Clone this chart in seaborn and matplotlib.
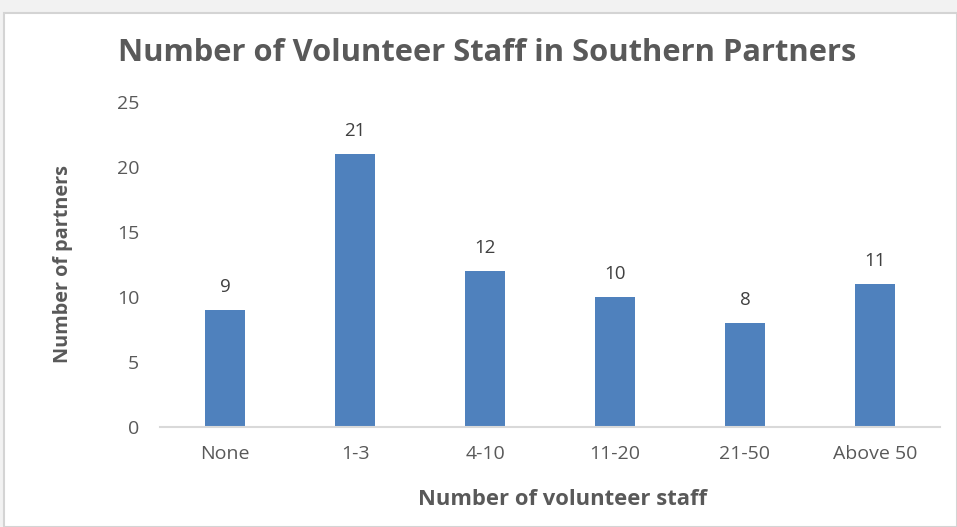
import matplotlib
matplotlib.use("Agg")
import matplotlib.pyplot as plt
from matplotlib.patches import Rectangle
import seaborn as sns
import pandas as pd

categories = ["None", "1-3", "4-10", "11-20", "21-50", "Above 50"]
partners = [9, 21, 12, 10, 8, 11]
y_ticks = [0, 5, 10, 15, 20, 25]

title = "Number of Volunteer Staff in Southern Partners"
x_label = "Number of volunteer staff"
y_label = "Number of partners"

sns.set_style("white")
plt.rcParams["font.family"] = ["Open Sans", "DejaVu Sans"]

df = pd.DataFrame({"category": categories, "partners": partners})

W, H = 957, 527
fig = plt.figure(figsize=(W / 100, H / 100), dpi=100)
fig.patch.set_facecolor("#f2f2f2")

# white chart area with a thin grey border
frame = Rectangle((4 / W, 0), 1 - 4 / W, 1 - 13 / H, transform=fig.transFigure,
                  facecolor="white", edgecolor="#d4d4d4", linewidth=1.5, zorder=-1)
fig.add_artist(frame)

ax = fig.add_axes([160 / W, 1 - 427 / H, 780 / W, 325 / H])
ax.set_zorder(2)
ax.set_facecolor("none")
sns.barplot(data=df, x="category", y="partners", color="#4f81bd", width=0.31,
            saturation=1, linewidth=0, ax=ax)

ax.set_ylim(0, 25)
ax.set_xlim(-0.5, len(categories) - 0.5)
ax.set_yticks(y_ticks)
for s in ["top", "right", "left"]:
    ax.spines[s].set_visible(False)
ax.spines["bottom"].set_color("#d9d9d9")
ax.spines["bottom"].set_linewidth(1.5)
ax.tick_params(axis="both", length=0, labelsize=14, colors="#595959")
ax.tick_params(axis="y", pad=15)
ax.tick_params(axis="x", pad=13)

for c in ax.containers:
    ax.bar_label(c, labels=[str(v) for v in partners], padding=10, fontsize=13.5, color="#404040")

ax.set_xlabel(x_label, fontsize=15.8, fontweight="bold", color="#595959")
ax.xaxis.set_label_coords(563 / W, 38 / H, transform=fig.transFigure)
ax.set_ylabel(y_label, fontsize=14.3, fontweight="bold", color="#595959")
ax.yaxis.set_label_coords(73 / W, 1 - 264 / H, transform=fig.transFigure)

fig.text(487 / W, 1 - 53 / H, title, ha="center", va="center", fontsize=22.2,
         fontweight="bold", color="#595959")

fig.savefig("out.png", dpi=100, facecolor=fig.get_facecolor())
